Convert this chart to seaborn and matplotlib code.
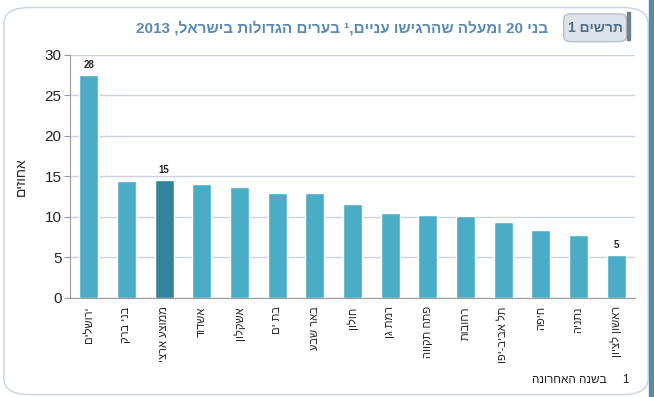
import re
import pandas as pd
import seaborn as sns
import matplotlib.pyplot as plt
from matplotlib.patches import FancyBboxPatch, Rectangle


################################################################################

cities = ["ירושלים", "בני ברק", "ממוצע ארצי", "אשדוד", "אשקלון", "בת ים",
          "באר שבע", "חולון", "רמת גן", "פתח תקווה", "רחובות", "תל אביב-יפו",
          "חיפה", "נתניה", "ראשון לציון"]
percent = [27.5, 14.5, 14.6, 14.1, 13.7, 13.0, 12.9, 11.6, 10.5, 10.2, 10.1,
           9.4, 8.4, 7.8, 5.3]
shown_labels = {"ירושלים": "28", "ממוצע ארצי": "15", "ראשון לציון": "5"}

Y_LABEL = "אחוזים"
TITLE = "בני 20 ומעלה שהרגישו עניים,¹ בערים הגדולות בישראל, 2013"
BOX_TEXT = "תרשים 1"
NOTE = "בשנה האחרונה"

BAR = "#4bacc6"
BAR_AVG = "#31849b"
TITLE_COLOR = "#5a8ab5"
HEB = ["Liberation Sans", "DejaVu Sans"]


def visnum(s):
  # matplotlib has no bidi: flip the string, keep digit runs in order
  return re.sub(r"\d+", lambda m: m.group(0)[::-1], s[::-1])


def main():
  sns.set_style("white")
  plt.rcParams["font.family"] = HEB

  df = pd.DataFrame({"city": [visnum(c) for c in cities], "pct": percent})
  palette = [BAR_AVG if c == "ממוצע ארצי" else BAR for c in cities]

  fig = plt.figure(figsize=(6.54, 3.97), dpi=100)
  ax = fig.add_axes([0.107, 0.2494, 0.864, 0.6121])

  sns.barplot(data=df, x="city", y="pct", hue="city", palette=palette,
              legend=False, width=0.5, ax=ax, saturation=1)

  ax.set_ylim(0, 30)
  ax.set_xlim(-0.5, len(cities) - 0.5)
  ax.set_yticks(range(0, 31, 5))
  ax.yaxis.grid(True, color="#c9d3dc", linewidth=1)
  ax.set_axisbelow(True)
  ax.tick_params(axis="y", labelsize=11, length=4, color="#999999", pad=2,
                 direction="out", left=True)
  ax.tick_params(axis="x", labelsize=8, length=0, pad=6)
  plt.setp(ax.get_xticklabels(), rotation=90, va="top", ha="center")
  ax.set_xlabel("")
  ax.set_ylabel(visnum(Y_LABEL), fontsize=10, labelpad=12)
  for side in ["top", "right"]:
    ax.spines[side].set_visible(False)
  for side in ["left", "bottom"]:
    ax.spines[side].set_color("#999999")

  for i, c in enumerate(cities):
    if c in shown_labels:
      ax.text(i, percent[i] + 0.6, shown_labels[c], ha="center", va="bottom",
              fontsize=7, fontweight="bold")

  # frame
  fig.patches.append(FancyBboxPatch((0.006, 0.006), 0.985, 0.975,
                     boxstyle="round,pad=0,rounding_size=0.04",
                     transform=fig.transFigure, fill=False,
                     edgecolor="#c8d4de", linewidth=1))
  fig.patches.append(Rectangle((0.992, 0), 0.008, 1, transform=fig.transFigure,
                     color="#4f8ea6"))

  # figure number box
  fig.patches.append(FancyBboxPatch((0.862, 0.895), 0.096, 0.07,
                     boxstyle="round,pad=0,rounding_size=0.012",
                     transform=fig.transFigure, facecolor="#dde3e8",
                     edgecolor="#b7c0c8", linewidth=1))
  fig.patches.append(Rectangle((0.958, 0.9), 0.005, 0.07,
                     transform=fig.transFigure, color="#6f7f8c"))
  fig.text(0.910, 0.930, visnum(BOX_TEXT), ha="center", va="center",
           fontsize=10, fontweight="bold", color="#4f6f8c")

  fig.text(0.838, 0.930, visnum(TITLE), ha="right", va="center",
           fontsize=11, fontweight="bold", color=TITLE_COLOR)

  fig.text(0.962, 0.042, visnum(NOTE) + "     1", ha="right", va="center",
           fontsize=8.5, color="#222222")

  fig.savefig("out.png", dpi=100)


main()
